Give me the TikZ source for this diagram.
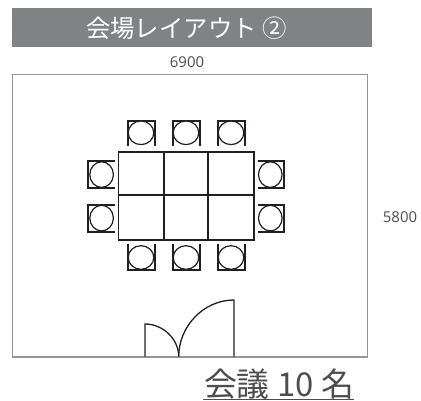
\documentclass[tikz,border=0pt]{standalone}
\usepackage{fontspec}
\setmainfont{Open Sans}
\newfontfamily\cjk{Noto Sans CJK JP}
\definecolor{hdr}{HTML}{808285}
\definecolor{wallc}{HTML}{939598}
\definecolor{ink}{HTML}{231F20}
\definecolor{txt}{HTML}{4D4D4F}
\tikzset{
  wall/.style={draw=wallc,line width=1.9bp},
  tableline/.style={draw=ink,line width=1.9bp},
  chairback/.style={draw=ink,line width=2bp,line cap=butt,line join=miter},
  seat/.style={draw=ink,line width=1.2bp,fill=white},
  doorline/.style={draw=ink,line width=1.3bp},
  dim/.style={text=txt,font=\fontsize{15}{18}\selectfont,inner sep=0pt},
}
\begin{document}
\begin{tikzpicture}[x=1bp,y=-1bp]
\useasboundingbox (0,0) rectangle (421,401);
% header
\fill[hdr] (12,8) rectangle (372,47);
\node[text=white,inner sep=0pt,anchor=center] (title) at (186.5,28) {\fontsize{24.5}{30}\selectfont\cjk 会場レイアウト ②};
\node[dim] (w) at (187,62) {6900};
\node[dim] (h) at (400,217) {5800};
% room
\path[wall] (12.5,74.5) rectangle (367.5,357);
% chairs top / bottom
\foreach \x in {127.5,172.5,217.5}{
  \draw[chairback] (\x,146) -- (\x,120.5) -- (\x+27.5,120.5) -- (\x+27.5,146);
  \draw[seat] (\x+13.5,132.8) ellipse (12.8 and 11.8);
  \draw[chairback] (\x,244) -- (\x,270) -- (\x+27.5,270) -- (\x+27.5,244);
  \draw[seat] (\x+13.5,257.5) ellipse (12.8 and 11.8);
}
% chairs left / right
\foreach \y in {161,204.5}{
  \draw[chairback] (115,\y) -- (88,\y) -- (88,\y+27) -- (115,\y+27);
  \draw[seat] (101.6,\y+13.6) ellipse (11.8 and 12.8);
  \draw[chairback] (257.5,\y) -- (283.5,\y) -- (283.5,\y+27) -- (257.5,\y+27);
  \draw[seat] (270.3,\y+13.6) ellipse (11.8 and 12.8);
}
% table
\path[tableline] (118.5,152) rectangle (253.8,240);
\path[tableline] (118.5,195) -- (253.8,195);
\path[tableline] (163.7,152) -- (163.7,240);
\path[tableline] (208.3,152) -- (208.3,240);
% door
\path[doorline] (145,356.5) -- (145,324) .. controls (163,324) and (178.7,339) .. (178.7,356.5);
\path[doorline] (234,356.5) -- (234,300) .. controls (203,300) and (178.7,327) .. (178.7,356.5);
% caption
\node[text=txt,inner sep=0pt,anchor=center] (cap) at (279,384) {\fontsize{33}{40}\selectfont\cjk 会議 10 名};
\draw[txt,line width=1.4bp] (203,399.5) -- (354,399.5);
\end{tikzpicture}
\end{document}
